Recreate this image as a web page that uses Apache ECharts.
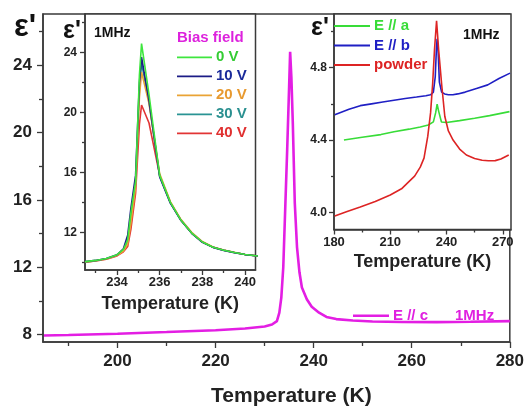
<!DOCTYPE html>
<html>
<head>
<meta charset="utf-8">
<script src="https://cdn.jsdelivr.net/npm/echarts@6/dist/echarts.min.js"></script>
<style>
html,body{margin:0;padding:0;background:#fff;}
#chart{width:527px;height:412px;}
</style>
</head>
<body>
<div id="chart"></div>
<script>
// ---------- main curve: E // c, 1MHz ----------
const mainT = [185, 190, 200, 210, 220, 226, 230, 231.5, 232.5, 233.0, 233.4, 233.8, 234.2, 234.6, 235.0, 235.2, 235.45, 235.75, 236.15, 236.6, 237.1, 237.6, 238.6, 239.6, 241.1, 242.6, 244.6, 248, 252, 258, 265, 272, 280];
const mainE = [7.95, 7.98, 8.05, 8.15, 8.26, 8.36, 8.48, 8.6, 8.8, 9.3, 10.2, 12.0, 15.5, 19.0, 22.8, 24.8, 23.3, 20.5, 15.8, 13.2, 11.7, 10.8, 10.1, 9.65, 9.3, 9.05, 8.92, 8.84, 8.78, 8.75, 8.74, 8.76, 8.8];

// ---------- inset 1: bias field ----------
const biasT = [232.5, 233, 233.5, 234, 234.3, 234.5, 234.65, 234.87, 235.05, 235.15, 235.5, 236, 236.5, 237, 237.5, 238, 238.5, 239, 239.5, 240, 240.6];
const bias0V  = [10.04, 10.12, 10.25, 10.5, 10.85, 11.5, 13.3, 15.4, 22.5, 24.6, 21.2, 15.8, 14.0, 12.8, 11.95, 11.35, 11.0, 10.8, 10.65, 10.52, 10.42];
const bias10V = [10.04, 10.12, 10.25, 10.5, 10.9, 11.8, 13.6, 15.8, 22.0, 23.7, 20.8, 15.7, 13.95, 12.78, 11.93, 11.33, 10.99, 10.79, 10.64, 10.51, 10.42];
const bias20V = [10.0, 10.1, 10.22, 10.45, 10.75, 11.2, 12.6, 15.0, 21.0, 22.7, 20.6, 15.9, 14.05, 12.85, 12.0, 11.38, 11.02, 10.81, 10.66, 10.52, 10.42];
const bias30V = [10.0, 10.1, 10.23, 10.47, 10.8, 11.4, 13.0, 15.2, 21.6, 23.3, 20.7, 15.75, 13.97, 12.8, 11.95, 11.35, 11.0, 10.8, 10.65, 10.52, 10.42];
const bias40V = [10.0, 10.08, 10.2, 10.42, 10.7, 11.05, 12.2, 14.6, 19.2, 20.5, 19.3, 15.8, 14.0, 12.8, 11.95, 11.35, 11.0, 10.8, 10.65, 10.52, 10.42];
const biasNames = ['0 V', '10 V', '20 V', '30 V', '40 V'];

// ---------- inset 2: orientations ----------
const aT = [185.3, 195, 205, 212, 220, 226, 230.3, 233, 234.2, 235, 235.8, 237.3, 240, 247, 255, 263, 273.6];
const aE = [4.40, 4.415, 4.43, 4.446, 4.46, 4.472, 4.483, 4.5, 4.55, 4.598, 4.56, 4.5, 4.497, 4.507, 4.52, 4.535, 4.557];
const bT = [180.4, 188, 194, 200, 206, 212, 218, 224, 229, 231.5, 233, 234, 234.6, 235, 235.5, 236.2, 237.4, 239, 241, 243.4, 246, 250, 256, 262, 268, 273.9];
const bE = [4.54, 4.57, 4.59, 4.60, 4.61, 4.62, 4.63, 4.638, 4.645, 4.65, 4.665, 4.75, 4.9, 4.96, 4.9, 4.72, 4.665, 4.655, 4.65, 4.65, 4.655, 4.665, 4.685, 4.705, 4.74, 4.77];
const pT = [180.4, 187, 194, 202, 210, 216, 220.5, 223, 226, 228, 230, 231.5, 232.6, 233.6, 234.7, 235.8, 237.4, 239.1, 241, 243.5, 247, 250.6, 255, 259, 262.3, 266, 269, 273.2];
const pE = [3.98, 4.005, 4.03, 4.06, 4.096, 4.13, 4.175, 4.2, 4.25, 4.3, 4.42, 4.55, 4.71, 4.9, 5.06, 4.9, 4.71, 4.53, 4.45, 4.4, 4.35, 4.317, 4.298, 4.288, 4.285, 4.286, 4.295, 4.317];
const orientNames = ['E // a', 'E // b', 'powder'];

// ---------- tick values ----------
const mainXMajor = [200, 220, 240, 260, 280];
const mainXMinor = [190, 210, 230, 250, 270];
const mainYMajor = [8, 12, 16, 20, 24];
const mainYMinor = [10, 14, 18, 22, 26];
const in1XMajor = [234, 236, 238, 240];
const in1XMinor = [233, 235, 237, 239];
const in1YMajor = [12, 16, 20, 24];
const in1YMinor = [10, 14, 18, 22, 26];
const in2XMajor = [180, 210, 240, 270];
const in2XMinor = [195, 225, 255];
const in2YMajor = [4.0, 4.4, 4.8];
const in2YMinor = [4.2, 4.6, 5.0];

const FONT = '"Liberation Sans", Arial, sans-serif';
const AX = '#3a3a3a';
const zip = (xs, ys) => xs.map((x, i) => [x, ys[i]]);

function axisPair(kind, grid, min, max, major, minor, opts) {
  const pos = kind === 'x' ? 'bottom' : 'left';
  const base = {
    type: 'value', gridIndex: grid, min: min, max: max, position: pos, offset: 0,
    splitLine: { show: false }, z: opts.z
  };
  const primary = Object.assign({}, base, {
    axisLine: { show: true, onZero: false, lineStyle: { color: AX, width: 1.5 } },
    axisTick: { show: true, inside: false, length: opts.major, customValues: major, lineStyle: { color: AX, width: 1.3 } },
    axisLabel: {
      show: true, customValues: major, margin: opts.margin, color: '#222',
      fontFamily: FONT, fontWeight: 'bold', fontSize: opts.fs,
      formatter: opts.fmt || (v => String(v))
    }
  }, opts.name ? {
    name: opts.name, nameLocation: 'middle', nameGap: opts.nameGap,
    nameTextStyle: { fontFamily: FONT, fontWeight: 'bold', fontSize: opts.nfs, color: '#222', padding: opts.npad || 0 }
  } : {});
  const secondary = Object.assign({}, base, {
    axisLine: { show: false, onZero: false },
    axisTick: { show: true, inside: false, length: opts.minor, customValues: minor, lineStyle: { color: AX, width: 1.3 } },
    axisLabel: { show: false }
  });
  return [primary, secondary];
}

const xAxes = [].concat(
  axisPair('x', 0, 184.8, 280, mainXMajor, mainXMinor, { z: 0, major: 6, minor: 4, margin: 11, fs: 17, name: 'Temperature (K)', nameGap: 44, nfs: 21, npad: [0, 0, 0, 30] }),
  axisPair('x', 1, 232.5, 240.49, in1XMajor, in1XMinor, { z: 3, major: 5, minor: 3, margin: 6, fs: 13, name: 'Temperature (K)', nameGap: 25, nfs: 18 }),
  axisPair('x', 2, 180, 274.4, in2XMajor, in2XMinor, { z: 3, major: 5, minor: 3, margin: 6, fs: 13, name: 'Temperature (K)', nameGap: 24, nfs: 18 })
);
const yAxes = [].concat(
  axisPair('y', 0, 7.56, 27.04, mainYMajor, mainYMinor, { z: 0, major: 6, minor: 4, margin: 11, fs: 17 }),
  axisPair('y', 1, 9.48, 26.58, in1YMajor, in1YMinor, { z: 3, major: 5, minor: 3, margin: 8, fs: 12 }),
  axisPair('y', 2, 3.905, 5.097, in2YMajor, in2YMinor, { z: 3, major: 5, minor: 3, margin: 7, fs: 12, fmt: v => v.toFixed(1) })
);

function lineSeries(name, xi, yi, data, color, width, z) {
  return {
    name: name, type: 'line', xAxisIndex: xi, yAxisIndex: yi, data: data,
    symbol: 'none', showSymbol: false, smooth: false, z: z, animation: false,
    lineStyle: { color: color, width: width }, itemStyle: { color: color }
  };
}

const mainColor = '#e31ee3';
const biasColors = ['#3ee63e', '#1c1c86', '#eaa335', '#2a9494', '#e23434'];
const biasText = ['#33cc33', '#1a2a9a', '#e89a30', '#2a9090', '#e03030'];
const biasData = [bias0V, bias10V, bias20V, bias30V, bias40V];
const orientColors = ['#38dc38', '#1f1fc4', '#dd2424'];
const orientData = [zip(aT, aE), zip(bT, bE), zip(pT, pE)];

const series = [lineSeries('E // c', 0, 0, zip(mainT, mainE), mainColor, 2.6, 1)];
for (let i = biasNames.length - 1; i >= 0; i--) {
  series.push(lineSeries(biasNames[i], 2, 2, zip(biasT, biasData[i]), biasColors[i], 1.6, 3));
}
orientNames.forEach((n, i) => series.push(lineSeries(n, 4, 4, orientData[i], orientColors[i], 1.6, 3)));

// legend blocks drawn as graphic (line sample + label)
function legendBlock(names, lineColors, textColors, x0, y0, step, w, lw) {
  const out = [];
  names.forEach((n, i) => {
    const y = y0 + i * step;
    out.push({ type: 'line', z: 10, shape: { x1: x0, y1: y, x2: x0 + w, y2: y }, style: { stroke: lineColors[i], lineWidth: lw } });
    out.push({ type: 'text', z: 10, style: { text: n, x: x0 + w + 4, y: y, textAlign: 'left', textVerticalAlign: 'middle', font: 'bold 15px ' + FONT, fill: textColors[i] } });
  });
  return out;
}

const texts = [
  { type: 'text', z: 10, style: { text: "ε'", x: 25, y: 27, textAlign: 'center', textVerticalAlign: 'middle', font: 'bold 31px ' + FONT, fill: '#111' } },
  { type: 'text', z: 10, style: { text: "ε'", x: 72, y: 31, textAlign: 'center', textVerticalAlign: 'middle', font: 'bold 25px ' + FONT, fill: '#111' } },
  { type: 'text', z: 10, style: { text: "ε'", x: 320, y: 28, textAlign: 'center', textVerticalAlign: 'middle', font: 'bold 25px ' + FONT, fill: '#111' } },
  { type: 'text', z: 10, style: { text: '1MHz', x: 94, y: 33.5, textAlign: 'left', textVerticalAlign: 'middle', font: 'bold 14px ' + FONT, fill: '#111' } },
  { type: 'text', z: 10, style: { text: '1MHz', x: 463, y: 35, textAlign: 'left', textVerticalAlign: 'middle', font: 'bold 14px ' + FONT, fill: '#111' } },
  { type: 'text', z: 10, style: { text: 'Bias field', x: 177, y: 38.3, textAlign: 'left', textVerticalAlign: 'middle', font: 'bold 15px ' + FONT, fill: '#dd22dd' } },
  { type: 'text', z: 10, style: { text: '1MHz', x: 455, y: 315.7, textAlign: 'left', textVerticalAlign: 'middle', font: 'bold 15px ' + FONT, fill: '#e020e0' } }
];

const option = {
  animation: false,
  backgroundColor: '#fff',
  grid: [
    { left: 43, top: 14, right: 16, bottom: 66.5, show: true, borderColor: AX, borderWidth: 1.5, z: 0 },
    { left: 85, top: 14, width: 170.5, height: 256, show: true, borderColor: AX, borderWidth: 1.5, backgroundColor: '#fff', z: 2 },
    { left: 334, top: 14, width: 177, height: 215.5, show: true, borderColor: AX, borderWidth: 1.5, backgroundColor: '#fff', z: 2 }
  ],
  xAxis: xAxes,
  yAxis: yAxes,
  graphic: [].concat(
    texts,
    legendBlock(['E // c'], [mainColor], ['#e020e0'], 353, 315.7, 0, 36, 2.6),
    legendBlock(biasNames, biasColors, biasText, 177, 57.3, 19, 35, 1.8),
    legendBlock(orientNames, orientColors, orientColors, 334, 26, 19.5, 36, 1.8)
  ),
  series: series
};

const chart = echarts.init(document.getElementById('chart'), null, { renderer: 'canvas' });
chart.setOption(option);
</script>
</body>
</html>
